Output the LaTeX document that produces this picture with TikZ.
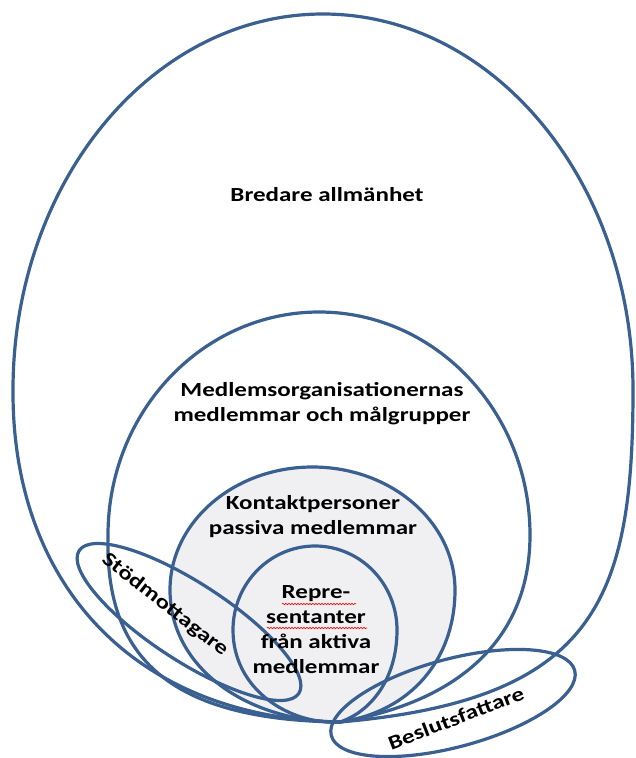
\documentclass[tikz,border=0pt]{standalone}
\usepackage{fontspec}
\newfontfamily\lab{Carlito}[FakeStretch=1.25]
\usetikzlibrary{decorations.pathmorphing}
\definecolor{ringblue}{RGB}{57,96,145}
\definecolor{innergray}{RGB}{240,240,242}
\begin{document}
\begin{tikzpicture}[x=1pt,y=-1pt,
  ringline/.style={draw=ringblue, line width=3.2pt, line join=round},
  lbl/.style={font=\lab\bfseries\fontsize{20}{25}\selectfont, align=center, inner sep=0pt, text=black},
  spell/.style={draw=red, line width=0.6pt, decorate, decoration={snake, amplitude=0.8pt, segment length=3pt}}]
\useasboundingbox[fill=white] (0,0) rectangle (635,758);
\coordinate (tip) at (340,722);
% fill of the contact-person drop
\path[fill=innergray] (170,590) arc[start angle=180, end angle=360, x radius=142.5, y radius=123]
  .. controls (455,660) and (410,712) .. (tip) .. controls (250,722) and (170,670) .. (170,590) -- cycle;
% outer
\draw[ringline] (13,390) arc[start angle=180, end angle=360, x radius=310, y radius=376]
  .. controls (633,600) and (595,700) .. (tip) .. controls (135,718) and (12,585) .. (13,390) -- cycle;
% members
\draw[ringline] (108,535) arc[start angle=180, end angle=360, x radius=211, y radius=223]
  .. controls (530,630) and (470,700) .. (tip) .. controls (160,720) and (105,650) .. (108,535) -- cycle;
% contact persons
\draw[ringline] (170,590) arc[start angle=180, end angle=360, x radius=142.5, y radius=123]
  .. controls (455,660) and (410,712) .. (tip) .. controls (250,722) and (170,670) .. (170,590) -- cycle;
% representatives
\draw[ringline] (233,630) arc[start angle=180, end angle=360, x radius=82, y radius=84]
  .. controls (397,680) and (370,712) .. (tip) .. controls (290,725) and (233,690) .. (233,630) -- cycle;
% Stodmottagare ellipse
\draw[ringline, rotate around={-33:(189,622)}] (189,622) ellipse [x radius=131, y radius=39];
% Beslutsfattare ellipse
\draw[ringline, rotate around={15:(453,703)}] (453,703) ellipse [x radius=126, y radius=44];
% labels
\node[lbl] (bred) at (327,195) {Bredare allmänhet};
\node[lbl] (medl) at (322,404) {Medlemsorganisationernas\\medlemmar och målgrupper};
\node[lbl] (kont) at (313,517) {Kontaktpersoner\\passiva medlemmar};
\node[lbl] (repr) at (316,630) {Repre-\\sentanter\\från aktiva\\medlemmar};
\node[lbl, rotate=-38] (stod) at (165,605) {Stödmottagare};
\node[lbl, rotate=21] (besl) at (456,718) {Beslutsfattare};
\draw[spell] (282,604) -- (356,604);
\draw[spell] (267,628) -- (367,628);
\end{tikzpicture}
\end{document}
